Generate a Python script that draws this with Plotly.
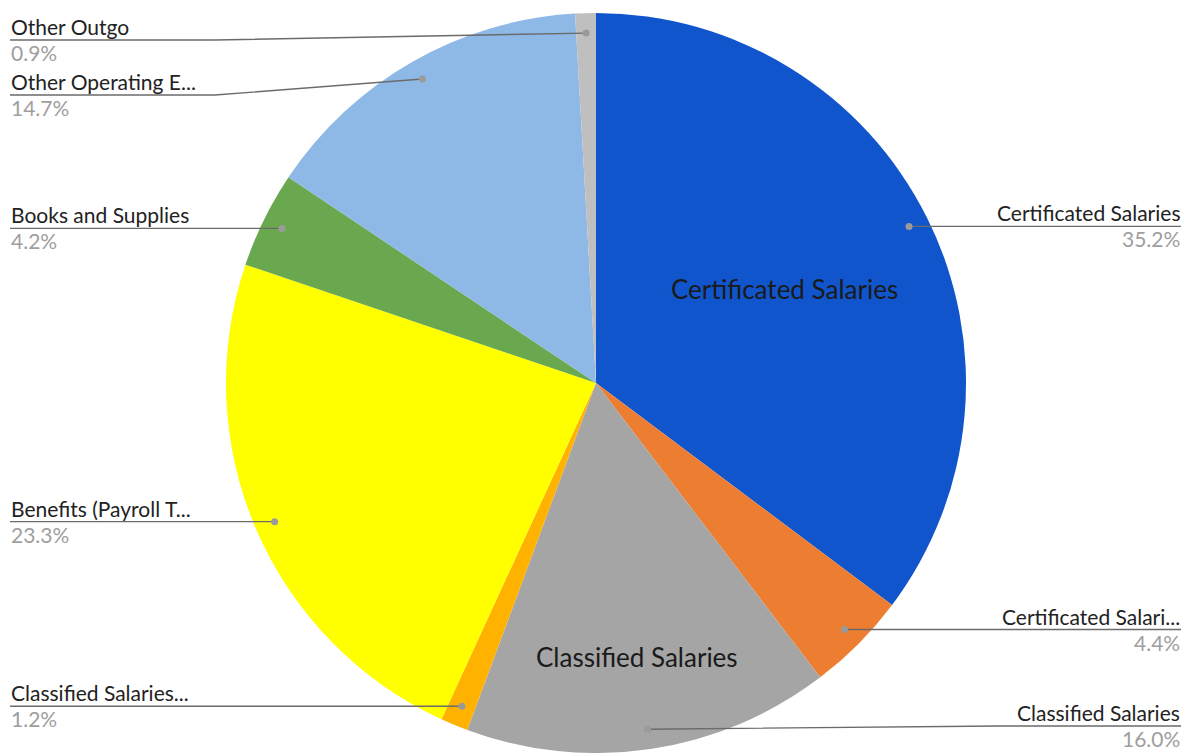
import math
import plotly.graph_objects as go

# ---- data ----
labels = ["Certificated Salaries", "Certificated Salari...", "Classified Salaries",
          "Classified Salaries...", "Benefits (Payroll T...", "Books and Supplies",
          "Other Operating E...", "Other Outgo"]
values = [35.2, 4.4, 16.0, 1.2, 23.3, 4.2, 14.7, 0.9]
inside_labels = ["Certificated Salaries", "", "Classified Salaries", "", "", "", "", ""]
colors = ["#1155CC", "#ED7D31", "#A5A5A5", "#FFB300", "#FFFF00", "#6AA84F", "#8EB8E5", "#BFBFBF"]

W, H = 1190, 753
CX, CY, R = 596, 383, 370
FONT = "Lato"
INSIDE_R = {0: 0.57, 2: 0.75}

total = sum(values)

fig = go.Figure(go.Pie(
    labels=labels, values=values, sort=False, direction="clockwise", rotation=0,
    marker=dict(colors=colors, line=dict(width=0)),
    textinfo="none",
    domain=dict(x=[(CX - R) / W, (CX + R) / W], y=[(H - CY - R) / H, (H - CY + R) / H]),
    showlegend=False, hoverinfo="label+percent",
))

def px(x):
    return x / W

def py(y):
    return 1 - y / H

cum = 0.0
items = []
for i, (lab, v) in enumerate(zip(labels, values)):
    mid = (cum + v / 2) / total
    cum += v
    ang = 2 * math.pi * mid
    dx, dy = math.sin(ang), -math.cos(ang)
    x0, y0 = CX + 0.946 * R * dx, CY + 0.946 * R * dy
    items.append(dict(i=i, lab=lab, pct=f"{v:.1f}%", x0=x0, y0=y0, right=dx > 0,
                      dx=dx, dy=dy))

# simple collision avoidance per side
GAP, TOP, BOTTOM = 55, 40, 726
for side in (True, False):
    grp = sorted([it for it in items if it["right"] == side], key=lambda it: it["y0"])
    prev = None
    for it in grp:
        y = max(it["y0"], TOP)
        if prev is not None:
            y = max(y, prev + GAP)
        it["ly"] = min(y, BOTTOM)
        prev = it["ly"]

shapes = []
annotations = []
LEFT_X, RIGHT_X = 10, 1181
for it in items:
    if it["right"]:
        xe, elbow = RIGHT_X, 1000
        anchor = "right"
    else:
        xe, elbow = LEFT_X, 215
        anchor = "left"
    if abs(it["ly"] - it["y0"]) > 1:
        path = f"M {px(it['x0'])},{py(it['y0'])} L {px(elbow)},{py(it['ly'])} L {px(xe)},{py(it['ly'])}"
    else:
        path = f"M {px(it['x0'])},{py(it['y0'])} L {px(xe)},{py(it['ly'])}"
    shapes.append(dict(type="path", xref="paper", yref="paper", path=path,
                       line=dict(color="#6b6b6b", width=1.4)))
    r = 3.5
    shapes.append(dict(type="circle", xref="paper", yref="paper",
                       x0=px(it["x0"] - r), x1=px(it["x0"] + r),
                       y0=py(it["y0"] + r), y1=py(it["y0"] - r),
                       fillcolor="#9a9a9a", line=dict(width=0)))
    annotations.append(dict(x=px(xe), y=py(it["ly"]), xref="paper", yref="paper",
                            text=it["lab"], showarrow=False, xanchor=anchor, yanchor="bottom",
                            borderpad=0,
                            font=dict(family=FONT, size=21, color="#222222")))
    annotations.append(dict(x=px(xe), y=py(it["ly"] - 1), xref="paper", yref="paper",
                            text=it["pct"], showarrow=False, xanchor=anchor, yanchor="top",
                            borderpad=0,
                            font=dict(family=FONT, size=21, color="#9e9e9e")))
    txt = inside_labels[it["i"]]
    if txt:
        f = INSIDE_R[it["i"]]
        annotations.append(dict(x=px(CX + f * R * it["dx"]), y=py(CY + f * R * it["dy"]),
                                xref="paper", yref="paper", text=txt, showarrow=False,
                                xanchor="center", yanchor="middle",
                                font=dict(family=FONT, size=26, color="#1a1a1a")))

fig.update_layout(width=W, height=H, margin=dict(l=0, r=0, t=0, b=0),
                  paper_bgcolor="white", plot_bgcolor="white",
                  shapes=shapes, annotations=annotations)

fig.write_html("out.html")
